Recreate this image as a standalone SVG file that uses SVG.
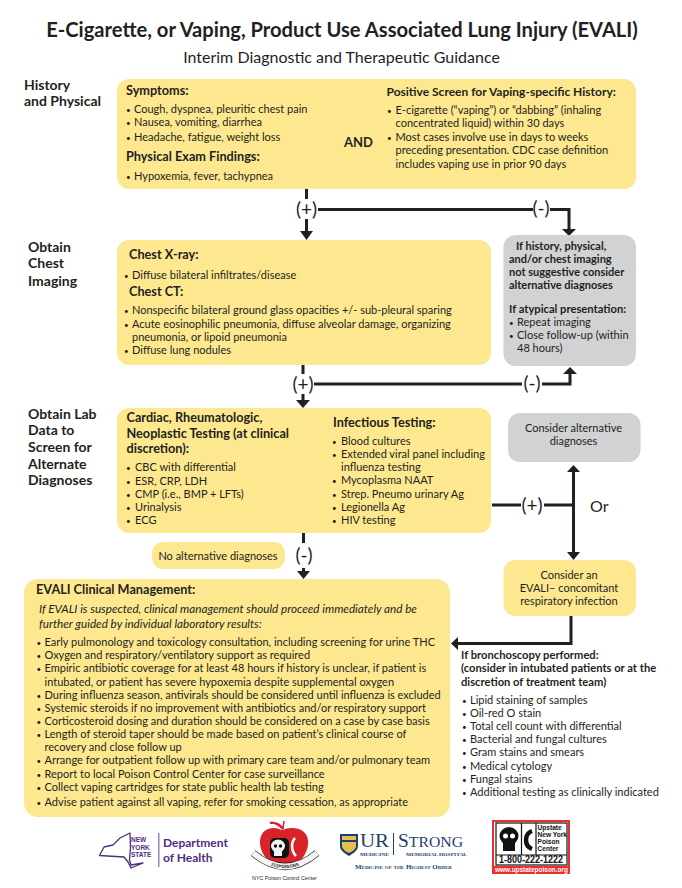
<svg xmlns="http://www.w3.org/2000/svg" width="682" height="888" viewBox="0 0 682 888">
<style>
text{font-family:"Lato","Liberation Sans",sans-serif;fill:#231f20;font-size:11px}
.h{font-weight:700;font-size:12.700px}
.h2{font-weight:700;font-size:12px}
.s{font-weight:700;font-size:14px}
.g{font-weight:700;font-size:11px}
.g2{font-weight:700;font-size:11.200px}
.i{font-style:italic;font-size:11.700px}
.b{font-size:8px}
.y{fill:#fee88f}
.n{fill:#d1d2d4}
.c{fill:none;stroke:#231f20;stroke-width:3}
.a{fill:#231f20}
.p{font-size:19px}
.m{text-anchor:middle}
.nys{fill:#4f2d7f;font-weight:700}
.ur{fill:#1d3f6e}
.ser{font-family:"Liberation Serif",serif}
.lg{font-family:"Liberation Sans",sans-serif;font-weight:700}
</style>
<rect width="682" height="888" fill="#fff"/>
<g id="title">
<text x="342" y="37" class="m" style="font-size:20.150px;font-weight:700">E-Cigarette, or Vaping, Product Use Associated Lung Injury (EVALI)</text>
<text x="341.500" y="63" class="m" style="font-size:16px">Interim Diagnostic and Therapeutic Guidance</text>
</g>
<g id="connectors">
<path class="c" d="M306.500 189V199M306.500 219V232M318 209.500H533M550 209.500H569V229"/>
<path class="a" d="M300 231H313L306.500 240ZM562 229H576L569 236Z"/>
<path class="c" d="M303 365V374M303 394V401M314 384H522M542 384H570V372"/>
<path class="a" d="M296 400H310L303 408ZM563 374H577L570 367Z"/>
<path class="c" d="M492 505H521M544 505H573.500M573.500 470V553"/>
<path class="a" d="M567 472H580L573.500 465ZM567 552H580L573.500 560Z"/>
<path class="c" d="M303.500 533V543M303.500 568V572"/>
<path class="a" d="M297 571H310L303.500 579Z"/>
<path class="c" d="M571 616V643.500H457"/>
<path class="a" d="M458 637V650L451 643.500Z"/>
<text x="306.500" y="215.500" class="p m">(+)</text>
<text x="541" y="215" class="p m">(-)</text>
<text x="303" y="390.500" class="p m">(+)</text>
<text x="532" y="390" class="p m">(-)</text>
<text x="532" y="511.500" class="p m">(+)</text>
<text x="304" y="561.500" class="p m">(-)</text>
<text x="590" y="512" style="font-size:16px">Or</text>
</g>
<g id="history-label"><text x="24" y="90" class="s">History</text><text x="24" y="106" class="s">and Physical</text></g>
<g id="imaging-label"><text x="28" y="252" class="s">Obtain</text><text x="28" y="268" class="s">Chest</text><text x="28" y="286" class="s">Imaging</text></g>
<g id="lab-label"><text x="28" y="419" class="s">Obtain Lab</text><text x="28" y="435" class="s">Data to</text><text x="28" y="452" class="s">Screen for</text><text x="28" y="469" class="s">Alternate</text><text x="28" y="485" class="s">Diagnoses</text></g>
<g id="history-box">
<rect class="y" x="117" y="79" width="519" height="110" rx="12"/>
<text x="126" y="95" class="h">Symptoms:</text>
<text x="126" y="113" class="b">•</text><text x="134" y="113">Cough, dyspnea, pleuritic chest pain</text>
<text x="126" y="126" class="b">•</text><text x="134" y="126">Nausea, vomiting, diarrhea</text>
<text x="126" y="141" class="b">•</text><text x="134" y="141">Headache, fatigue, weight loss</text>
<text x="126" y="161" class="h">Physical Exam Findings:</text>
<text x="126" y="180" class="b">•</text><text x="134" y="180">Hypoxemia, fever, tachypnea</text>
<text x="344" y="147" class="h" style="font-size:13px">AND</text>
<text x="386.500" y="96" class="h2">Positive Screen for Vaping-specific History:</text>
<text x="387" y="114" class="b">•</text><text x="395.500" y="114">E-cigarette (“vaping”) or “dabbing” (inhaling</text>
<text x="395.500" y="127">concentrated liquid) within 30 days</text>
<text x="387" y="141" class="b">•</text><text x="395.500" y="141">Most cases involve use in days to weeks</text>
<text x="395.500" y="154">preceding presentation. CDC case definition</text>
<text x="395.500" y="168">includes vaping use in prior 90 days</text>
</g>
<g id="imaging-box">
<rect class="y" x="117" y="240" width="374" height="125" rx="12"/>
<text x="129" y="259" class="h">Chest X-ray:</text>
<text x="124" y="279" class="b">•</text><text x="132" y="279">Diffuse bilateral infiltrates/disease</text>
<text x="129" y="296" class="h">Chest CT:</text>
<text x="124" y="314" class="b">•</text><text x="132" y="314">Nonspecific bilateral ground glass opacities +/- sub-pleural sparing</text>
<text x="124" y="328" class="b">•</text><text x="132" y="328">Acute eosinophilic pneumonia, diffuse alveolar damage, organizing</text>
<text x="132" y="341">pneumonia, or lipoid pneumonia</text>
<text x="124" y="354" class="b">•</text><text x="132" y="354">Diffuse lung nodules</text>
</g>
<g id="negative-box">
<rect class="n" x="503.500" y="235" width="132.500" height="131" rx="12"/>
<text x="516" y="250" class="g">If history, physical,</text>
<text x="509" y="263" class="g">and/or chest imaging</text>
<text x="509" y="276" class="g">not suggestive consider</text>
<text x="509" y="289" class="g">alternative diagnoses</text>
<text x="509" y="313" class="g2">If atypical presentation:</text>
<text x="509" y="326" class="b">•</text><text x="517" y="326">Repeat imaging</text>
<text x="509" y="339" class="b">•</text><text x="517" y="339">Close follow-up (within</text>
<text x="517" y="352">48 hours)</text>
</g>
<g id="lab-box">
<rect class="y" x="117" y="408" width="374" height="125" rx="12"/>
<text x="126.500" y="422" class="h">Cardiac, Rheumatologic,</text>
<text x="126.500" y="438" class="h">Neoplastic Testing (at clinical</text>
<text x="126.500" y="453" class="h">discretion):</text>
<text x="126" y="471" class="b">•</text><text x="135" y="471">CBC with differential</text>
<text x="126" y="485" class="b">•</text><text x="135" y="485">ESR, CRP, LDH</text>
<text x="126" y="498" class="b">•</text><text x="135" y="498">CMP (i.e., BMP + LFTs)</text>
<text x="126" y="511" class="b">•</text><text x="135" y="511">Urinalysis</text>
<text x="126" y="524" class="b">•</text><text x="135" y="524">ECG</text>
<text x="333" y="427" class="h">Infectious Testing:</text>
<text x="332" y="445" class="b">•</text><text x="341" y="445">Blood cultures</text>
<text x="332" y="458" class="b">•</text><text x="341" y="458">Extended viral panel including</text>
<text x="341" y="471">influenza testing</text>
<text x="332" y="484" class="b">•</text><text x="341" y="484">Mycoplasma NAAT</text>
<text x="332" y="498" class="b">•</text><text x="341" y="498">Strep. Pneumo urinary Ag</text>
<text x="332" y="511" class="b">•</text><text x="341" y="511">Legionella Ag</text>
<text x="332" y="524" class="b">•</text><text x="341" y="524">HIV testing</text>
</g>
<g id="alternative-box">
<rect class="n" x="508" y="413" width="132.500" height="49" rx="12"/>
<text x="573.500" y="432" class="m">Consider alternative</text>
<text x="573.500" y="445" class="m">diagnoses</text>
</g>
<g id="no-alternative"><rect class="y" x="152" y="542" width="133" height="27" rx="11"/><text x="218" y="560" class="m">No alternative diagnoses</text></g>
<g id="concomitant-box">
<rect class="y" x="503.500" y="560" width="132.500" height="56" rx="12"/>
<text x="569" y="579" class="m">Consider an</text>
<text x="569" y="592" class="m">EVALI– concomitant</text>
<text x="569" y="605" class="m">respiratory infection</text>
</g>
<g id="management-box">
<rect class="y" x="24" y="579" width="426" height="238" rx="14"/>
<text x="36" y="594" class="h">EVALI Clinical Management:</text>
<text x="39" y="613" class="i">If EVALI is suspected, clinical management should proceed immediately and be</text>
<text x="39" y="628" class="i">further guided by individual laboratory results:</text>
<text x="36.500" y="646" class="b">•</text><text x="44.500" y="646">Early pulmonology and toxicology consultation, including screening for urine THC</text>
<text x="36.500" y="659" class="b">•</text><text x="44.500" y="659">Oxygen and respiratory/ventilatory support as required</text>
<text x="36.500" y="672" class="b">•</text><text x="44.500" y="672">Empiric antibiotic coverage for at least 48 hours if history is unclear, if patient is</text>
<text x="44.500" y="686">intubated, or patient has severe hypoxemia despite supplemental oxygen</text>
<text x="36.500" y="699" class="b">•</text><text x="44.500" y="699">During influenza season, antivirals should be considered until influenza is excluded</text>
<text x="36.500" y="712" class="b">•</text><text x="44.500" y="712">Systemic steroids if no improvement with antibiotics and/or respiratory support</text>
<text x="36.500" y="725" class="b">•</text><text x="44.500" y="725">Corticosteroid dosing and duration should be considered on a case by case basis</text>
<text x="36.500" y="738" class="b">•</text><text x="44.500" y="738">Length of steroid taper should be made based on patient’s clinical course of</text>
<text x="44.500" y="751">recovery and close follow up</text>
<text x="36.500" y="764" class="b">•</text><text x="44.500" y="764">Arrange for outpatient follow up with primary care team and/or pulmonary team</text>
<text x="36.500" y="778" class="b">•</text><text x="44.500" y="778">Report to local Poison Control Center for case surveillance</text>
<text x="36.500" y="791" class="b">•</text><text x="44.500" y="791">Collect vaping cartridges for state public health lab testing</text>
<text x="36.500" y="806" class="b">•</text><text x="44.500" y="806">Advise patient against all vaping, refer for smoking cessation, as appropriate</text>
</g>
<g id="bronchoscopy">
<text x="461" y="659" class="g2">If bronchoscopy performed:</text>
<text x="461" y="672" class="g2">(consider in intubated patients or at the</text>
<text x="461" y="686" class="g2">discretion of treatment team)</text>
<text x="462" y="704" class="b">•</text><text x="470" y="704">Lipid staining of samples</text>
<text x="462" y="717" class="b">•</text><text x="470" y="717">Oil-red O stain</text>
<text x="462" y="730" class="b">•</text><text x="470" y="730">Total cell count with differential</text>
<text x="462" y="743" class="b">•</text><text x="470" y="743">Bacterial and fungal cultures</text>
<text x="462" y="756" class="b">•</text><text x="470" y="756">Gram stains and smears</text>
<text x="462" y="770" class="b">•</text><text x="470" y="770">Medical cytology</text>
<text x="462" y="783" class="b">•</text><text x="470" y="783">Fungal stains</text>
<text x="462" y="796" class="b">•</text><text x="470" y="796">Additional testing as clinically indicated</text>
</g>
<g id="logo-nys">
<path d="M99.500 855.500L104 847L113 845L120 838L130 833L130.500 848L129.500 860L131 865L143 863L131 868L128 862L124 857Z" fill="none" stroke="#4f2d7f" stroke-width="1.300" stroke-linejoin="round"/>
<text x="131" y="842" class="nys lg" style="font-size:6.500px;fill:#4f2d7f">NEW</text>
<text x="131" y="849.500" class="nys lg" style="font-size:6.500px;fill:#4f2d7f">YORK</text>
<text x="131" y="857" class="nys lg" style="font-size:6.500px;fill:#4f2d7f">STATE</text>
<rect x="158" y="833" width="1.500" height="34" fill="#9a88b8"/>
<text x="163" y="847" class="nys" style="font-size:12px">Department</text>
<text x="163" y="862" class="nys" style="font-size:12px">of Health</text>
</g>
<g id="logo-apple">
<path d="M283 829C279 825 274 822 270 823C276 822 280 824 283 829Z" fill="#d8232a" stroke="#d8232a" stroke-width="2"/>
<path d="M283 829L284 821" stroke="#d8232a" stroke-width="1.500"/>
<path d="M282 830C272 825 260 829 260 842C260 854 270 865 278 864C281 864 283 863 285 863C288 863 290 864 293 864C300 864 309 852 308 841C308 829 293 825 282 830Z" fill="#d8232a"/>
<rect x="270" y="838" width="19" height="20" rx="5" fill="#111"/>
<ellipse cx="278" cy="846" rx="7" ry="6.500" fill="#f2f2f2"/>
<rect x="274" y="851" width="8" height="5" fill="#f2f2f2"/>
<circle cx="275.500" cy="846" r="1.700" fill="#111"/>
<circle cx="280.500" cy="846" r="1.700" fill="#111"/>
<path d="M295 838C291 842 291 851 296 856" fill="none" stroke="#fff" stroke-width="2.500"/>
<path d="M253 853Q285 880 317 853" fill="none" stroke="#222" stroke-width="7"/>
<path id="banner" d="M253 853Q285 880 317 853" fill="none" stroke="#f4f4f4" stroke-width="5.600"/>
<text class="lg" dy="1.500" style="font-size:4.500px"><textPath href="#banner" startOffset="50%" text-anchor="middle">212POISONS</textPath></text>
<text x="284.500" y="879.500" class="m" style="font-size:5.300px;font-family:'Liberation Sans',sans-serif">NYC Poison Control Center</text>
</g>
<g id="logo-strong">
<path d="M340 834H358V846C358 851 352 854 349 856C346 854 340 851 340 846Z" fill="#1d3f6e"/>
<path d="M342 842H356V847C354 851 351 852 349 853C347 852 344 851 342 847Z" fill="#e3c04c"/>
<rect x="342" y="836" width="14" height="4" fill="#e3c04c"/>
<text x="360" y="847" class="ur ser" textLength="29" lengthAdjust="spacingAndGlyphs" style="font-size:18.500px">UR</text>
<text x="360" y="856" class="ur ser" textLength="29" lengthAdjust="spacingAndGlyphs" style="font-size:5px;font-weight:700">MEDICINE</text>
<rect x="393" y="833" width="1" height="22" fill="#1d3f6e"/>
<text x="398" y="847" class="ur ser" textLength="65" lengthAdjust="spacingAndGlyphs" style="font-size:15px"><tspan style="font-size:18.500px">S</tspan>TRONG</text>
<text x="406" y="856" class="ur ser" textLength="61" lengthAdjust="spacingAndGlyphs" style="font-size:5px;font-weight:700">MEMORIAL HOSPITAL</text>
<text x="355" y="869" class="ur ser" textLength="97" lengthAdjust="spacingAndGlyphs" style="font-size:5.500px;font-weight:700;font-variant:small-caps">Medicine of the Highest Order</text>
</g>
<g id="logo-upstate">
<rect x="492" y="820" width="78" height="54" fill="#ec2e2e"/>
<rect x="494" y="822" width="74" height="44" fill="#fff"/>
<rect x="496" y="823" width="71" height="42" fill="none" stroke="#111" stroke-width="1.200"/>
<path d="M496 855H567M521.500 823V855M536 823V855" stroke="#111" stroke-width="1.200"/>
<ellipse cx="509" cy="836" rx="9.500" ry="9" fill="#111"/>
<rect x="503" y="842" width="12" height="9" fill="#111"/>
<circle cx="505.500" cy="836" r="2.500" fill="#fff"/>
<circle cx="512.500" cy="836" r="2.500" fill="#fff"/>
<path d="M532 831C524 834 524 846 532 849" fill="none" stroke="#111" stroke-width="4.500"/>
<text x="537.500" y="829.500" class="lg" style="font-size:6.600px;fill:#111">Upstate</text>
<text x="537.500" y="836.500" class="lg" style="font-size:6.600px;fill:#111">New York</text>
<text x="537.500" y="843.500" class="lg" style="font-size:6.600px;fill:#111">Poison</text>
<text x="537.500" y="850.500" class="lg" style="font-size:6.600px;fill:#111">Center</text>
<text x="499" y="863" class="lg" textLength="64" lengthAdjust="spacingAndGlyphs" style="font-size:10px;fill:#111">1-800-222-1222</text>
<text x="495" y="872" class="lg" textLength="73" lengthAdjust="spacingAndGlyphs" style="font-size:7px;fill:#fff">www.upstatepoison.org</text>
</g>
</svg>
